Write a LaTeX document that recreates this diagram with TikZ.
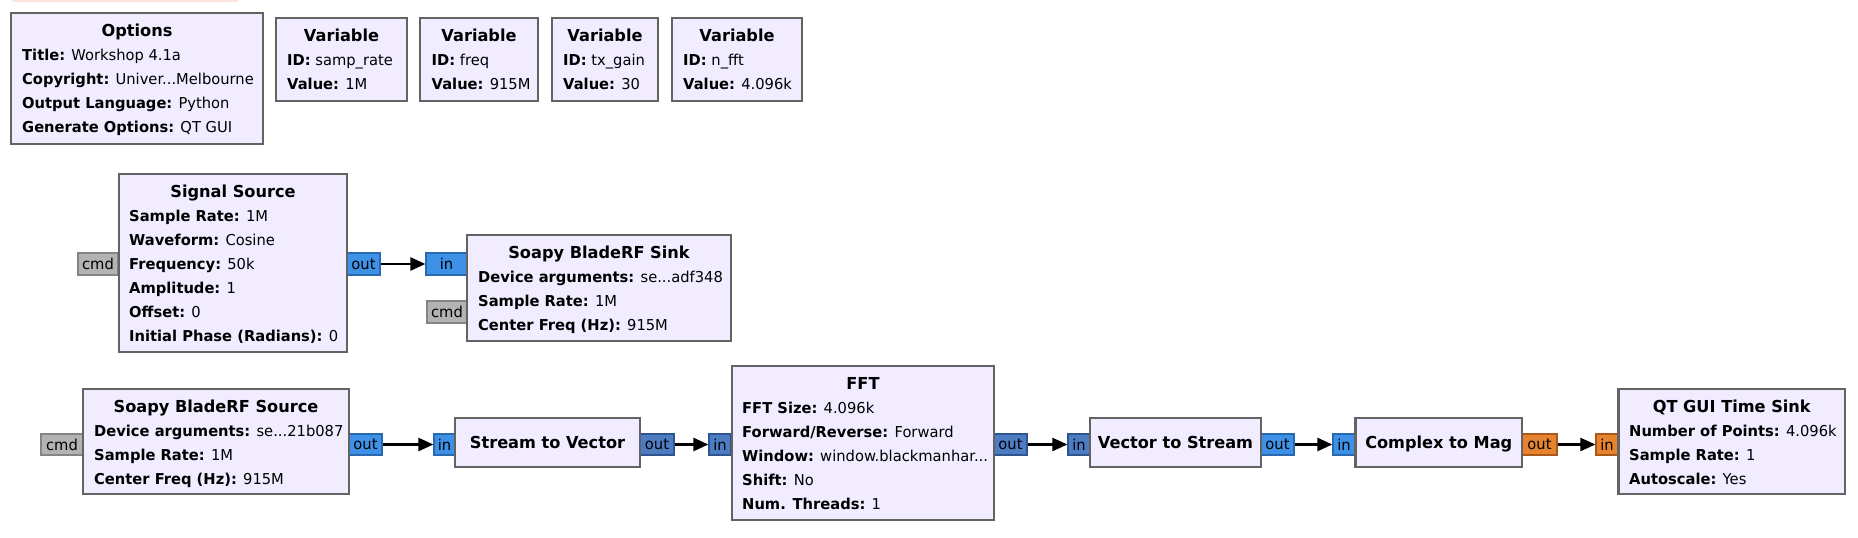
\documentclass[tikz,border=0pt]{standalone}
\usepackage{fontspec}
\setmainfont{DejaVu Sans}[FakeStretch=0.98]
\usetikzlibrary{arrows.meta,fit}
\definecolor{blkfill}{HTML}{F1ECFF}
\definecolor{blkdraw}{HTML}{636363}
\definecolor{cplx}{HTML}{3D92E8}
\definecolor{cplxd}{HTML}{2A68B0}
\definecolor{vecc}{HTML}{4D7CC2}
\definecolor{vecd}{HTML}{2F558F}
\definecolor{flt}{HTML}{E5832F}
\definecolor{fltd}{HTML}{A85A1C}
\definecolor{msg}{HTML}{B3B3B3}
\definecolor{msgd}{HTML}{858585}
\definecolor{strip}{HTML}{FCE4DE}
\tikzset{
  blk/.style={rectangle, draw=blkdraw, fill=blkfill, line width=2.5pt, inner sep=0pt},
  port/.style={rectangle, line width=1.2pt, inner sep=0pt},
  cport/.style={port, fill=cplx, draw=cplxd},
  vport/.style={port, fill=vecc, draw=vecd},
  fport/.style={port, fill=flt, draw=fltd},
  mport/.style={port, fill=msg, draw=msgd},
  ptxt/.style={inner sep=0pt, font=\fontsize{15}{18}\selectfont},
  ttl/.style={inner sep=0pt, font=\fontsize{16.5}{18}\selectfont\bfseries, anchor=base},
  prm/.style={inner sep=0pt, font=\fontsize{15}{18}\selectfont, anchor=base west},
  conn/.style={line width=2.4pt, -{Triangle[length=15pt,width=13pt]}}
}
\begin{document}
\begin{tikzpicture}[x=1pt,y=-1pt]
\useasboundingbox[fill=white] (0,0) rectangle (1858,538);
\fill[strip] (12,0) rectangle (238,1.5);

% ---------- ports ----------
\node[mport, fit={(78,253) (118,275)}, label={[ptxt]center:cmd}] (ss-cmd) {};
\node[cport, fit={(347,253) (380,275)}, label={[ptxt]center:out}] (ss-out) {};
\node[cport, fit={(426,253) (467,275)}, label={[ptxt]center:in}] (snk-in) {};
\node[mport, fit={(427,301) (467,323)}, label={[ptxt]center:cmd}] (snk-cmd) {};

\node[mport, fit={(41,434) (83,455)}, label={[ptxt]center:cmd}] (src-cmd) {};
\node[cport, fit={(349,434) (382,455)}, label={[ptxt]center:out}] (src-out) {};
\node[cport, fit={(434,434) (455,455)}, label={[ptxt]center:in}] (stv-in) {};
\node[vport, fit={(640,434) (674,455)}, label={[ptxt]center:out}] (stv-out) {};
\node[vport, fit={(709,434) (731,455)}, label={[ptxt]center:in}] (fft-in) {};
\node[vport, fit={(994,434) (1027,455)}, label={[ptxt]center:out}] (fft-out) {};
\node[vport, fit={(1068,434) (1090,455)}, label={[ptxt]center:in}] (vts-in) {};
\node[cport, fit={(1261,434) (1294,455)}, label={[ptxt]center:out}] (vts-out) {};
\node[cport, fit={(1333,434) (1355,455)}, label={[ptxt]center:in}] (ctm-in) {};
\node[fport, fit={(1522,434) (1557,455)}, label={[ptxt]center:out}] (ctm-out) {};
\node[fport, fit={(1596,434) (1618,455)}, label={[ptxt]center:in}] (qt-in) {};

% ---------- blocks ----------
\node[blk, fit={(11,13) (263,144)}] (opt) {};
\node[ttl] (opt-t) at (137,36.5) {Options};
\node[prm] (opt-1) at (22,60.5) {\textbf{Title:} Workshop 4.1a};
\node[prm] (opt-2) at (22,84.5) {\textbf{Copyright:} Univer...Melbourne};
\node[prm] (opt-3) at (22,108.5) {\textbf{Output Language:} Python};
\node[prm] (opt-4) at (22,132.5) {\textbf{Generate Options:} QT GUI};

\node[blk, fit={(276,18) (407,101)}] (v1) {};
\node[ttl] (v1-t) at (341.5,41) {Variable};
\node[prm] (v1-1) at (287,65) {\textbf{ID:} samp\_rate};
\node[prm] (v1-2) at (287,89) {\textbf{Value:} 1M};

\node[blk, fit={(420,18) (538,101)}] (v2) {};
\node[ttl] (v2-t) at (479,41) {Variable};
\node[prm] (v2-1) at (431.5,65) {\textbf{ID:} freq};
\node[prm] (v2-2) at (431.5,89) {\textbf{Value:} 915M};

\node[blk, fit={(552,18) (658,101)}] (v3) {};
\node[ttl] (v3-t) at (605,41) {Variable};
\node[prm] (v3-1) at (563,65) {\textbf{ID:} tx\_gain};
\node[prm] (v3-2) at (563,89) {\textbf{Value:} 30};

\node[blk, fit={(672,18) (802,101)}] (v4) {};
\node[ttl] (v4-t) at (737,41) {Variable};
\node[prm] (v4-1) at (683,65) {\textbf{ID:} n\_fft};
\node[prm] (v4-2) at (683,89) {\textbf{Value:} 4.096k};

\node[blk, fit={(119,174) (347,352)}] (ss) {};
\node[ttl] (ss-t) at (233,197.5) {Signal Source};
\node[prm] (ss-1) at (129,221.5) {\textbf{Sample Rate:} 1M};
\node[prm] (ss-2) at (129,245.5) {\textbf{Waveform:} Cosine};
\node[prm] (ss-3) at (129,269.5) {\textbf{Frequency:} 50k};
\node[prm] (ss-4) at (129,293.5) {\textbf{Amplitude:} 1};
\node[prm] (ss-5) at (129,317.5) {\textbf{Offset:} 0};
\node[prm] (ss-6) at (129,341.5) {\textbf{Initial Phase (Radians):} 0};

\node[blk, fit={(467,235) (731,341)}] (snk) {};
\node[ttl] (snk-t) at (599,258.5) {Soapy BladeRF Sink};
\node[prm] (snk-1) at (478,282.5) {\textbf{Device arguments:} se...adf348};
\node[prm] (snk-2) at (478,306.5) {\textbf{Sample Rate:} 1M};
\node[prm] (snk-3) at (478,330.5) {\textbf{Center Freq (Hz):} 915M};

\node[blk, fit={(83,389) (349,494)}] (src) {};
\node[ttl] (src-t) at (216,412) {Soapy BladeRF Source};
\node[prm] (src-1) at (94,436) {\textbf{Device arguments:} se...21b087};
\node[prm] (src-2) at (94,460) {\textbf{Sample Rate:} 1M};
\node[prm] (src-3) at (94,484) {\textbf{Center Freq (Hz):} 915M};

\node[blk, fit={(455,418) (640,467)}] (stv) {};
\node[ttl] (stv-t) at (547.5,448) {Stream to Vector};

\node[blk, fit={(732,366) (994,520)}] (fft) {};
\node[ttl] (fft-t) at (863,389.5) {FFT};
\node[prm] (fft-1) at (742,413.5) {\textbf{FFT Size:} 4.096k};
\node[prm] (fft-2) at (742,437.5) {\textbf{Forward/Reverse:} Forward};
\node[prm] (fft-3) at (742,461.5) {\textbf{Window:} window.blackmanhar...};
\node[prm] (fft-4) at (742,485.5) {\textbf{Shift:} No};
\node[prm] (fft-5) at (742,509.5) {\textbf{Num. Threads:} 1};

\node[blk, fit={(1090,418) (1261,467)}] (vts) {};
\node[ttl] (vts-t) at (1175.5,448) {Vector to Stream};

\node[blk, fit={(1355.5,418) (1522,467)}] (ctm) {};
\node[ttl] (ctm-t) at (1438.75,448) {Complex to Mag};

\node[blk, fit={(1618.5,389) (1845,494)}] (qt) {};
\node[ttl] (qt-t) at (1731.75,412) {QT GUI Time Sink};
\node[prm] (qt-1) at (1629,436) {\textbf{Number of Points:} 4.096k};
\node[prm] (qt-2) at (1629,460) {\textbf{Sample Rate:} 1};
\node[prm] (qt-3) at (1629,484) {\textbf{Autoscale:} Yes};

% ---------- connections ----------
\draw[conn] (ss-out.east) -- (snk-in.west);
\draw[conn] (src-out.east) -- (stv-in.west);
\draw[conn] (stv-out.east) -- (fft-in.west);
\draw[conn] (fft-out.east) -- (vts-in.west);
\draw[conn] (vts-out.east) -- (ctm-in.west);
\draw[conn] (ctm-out.east) -- (qt-in.west);
\end{tikzpicture}
\end{document}
